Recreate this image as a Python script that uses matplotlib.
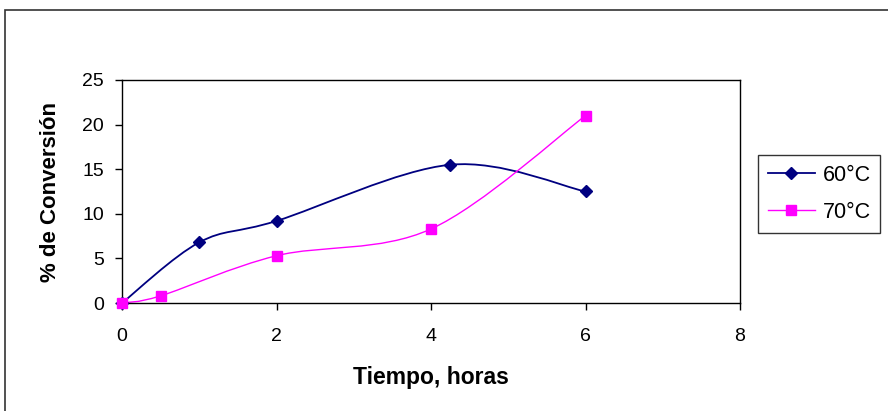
import matplotlib.pyplot as plt
import numpy as np
from matplotlib.path import Path
from matplotlib.patches import PathPatch, Rectangle
from matplotlib.lines import Line2D

plt.rcParams['font.family'] = ['Liberation Sans', 'DejaVu Sans']

# conversion data
t_60 = [0, 1, 2, 4.25, 6]
conv_60 = [0, 6.8, 9.2, 15.5, 12.5]
t_70 = [0, 0.5, 2, 4, 6]
conv_70 = [0, 0.8, 5.3, 8.3, 21.0]

labels = ['60°C', '70°C']
colors = ['#000080', '#FF00FF']
markers = ['D', 's']
msizes = [6, 6.5]
lwidths = [1.3, 1.0]


def smooth_path(x, y):
    # Catmull-Rom style bezier segments (the classic spreadsheet "smoothed line")
    x = np.asarray(x, float)
    y = np.asarray(y, float)
    n = len(x)
    verts = [(x[0], y[0])]
    codes = [Path.MOVETO]
    for i in range(n - 1):
        x0, y0 = (x[i - 1], y[i - 1]) if i > 0 else (x[i], y[i])
        x3, y3 = (x[i + 2], y[i + 2]) if i + 2 < n else (x[i + 1], y[i + 1])
        c1 = (x[i] + (x[i + 1] - x0) / 6.0, y[i] + (y[i + 1] - y0) / 6.0)
        c2 = (x[i + 1] - (x3 - x[i]) / 6.0, y[i + 1] - (y3 - y[i]) / 6.0)
        verts += [c1, c2, (x[i + 1], y[i + 1])]
        codes += [Path.CURVE4] * 3
    return Path(verts, codes)


fig = plt.figure(figsize=(8.88, 4.11), dpi=100)
fig.patches.append(Rectangle((5 / 888, -0.1), 1.2, 1 - 10 / 411 + 0.1,
                             transform=fig.transFigure, fill=False,
                             edgecolor='#333333', linewidth=1.2))

ax = fig.add_axes([122 / 888, 1 - 303 / 411, (740 - 122) / 888, (303 - 80) / 411])

for tx, cy, c, m, ms, lw in zip([t_60, t_70], [conv_60, conv_70], colors,
                                markers, msizes, lwidths):
    ax.add_patch(PathPatch(smooth_path(tx, cy), facecolor='none',
                           edgecolor=c, linewidth=lw, zorder=2))
    ax.plot(tx, cy, linestyle='none', marker=m, color=c,
            markersize=ms, zorder=3, clip_on=False)

ax.set_xlim(0, 8)
ax.set_ylim(0, 25)
ax.set_xticks([0, 2, 4, 6, 8])
ax.set_yticks([0, 5, 10, 15, 20, 25])
ax.tick_params(direction='out', length=5, width=1, labelsize=14, color='black')
ax.tick_params(axis='x', pad=13)
ax.tick_params(axis='y', pad=8)
for s in ax.spines.values():
    s.set_color('black')
    s.set_linewidth(1.0)

ax.set_xlabel('Tiempo, horas', fontsize=16.5, fontweight='bold', labelpad=15)
ax.set_ylabel('% de Conversión', fontsize=16, fontweight='bold', labelpad=15)

handles = [Line2D([], [], color=c, marker=m, markersize=ms, linewidth=lw)
           for c, m, ms, lw in zip(colors, markers, msizes, lwidths)]
leg = fig.legend(handles, labels, loc='upper left',
                 bbox_to_anchor=(758 / 888, 1 - 155 / 411),
                 frameon=True, fancybox=False, shadow=False, fontsize=15.5,
                 handlelength=2.2, borderpad=0.45, labelspacing=0.75,
                 handletextpad=0.35, borderaxespad=0)
leg.get_frame().set_edgecolor('black')
leg.get_frame().set_linewidth(1.0)

fig.savefig('out.png', dpi=100)
